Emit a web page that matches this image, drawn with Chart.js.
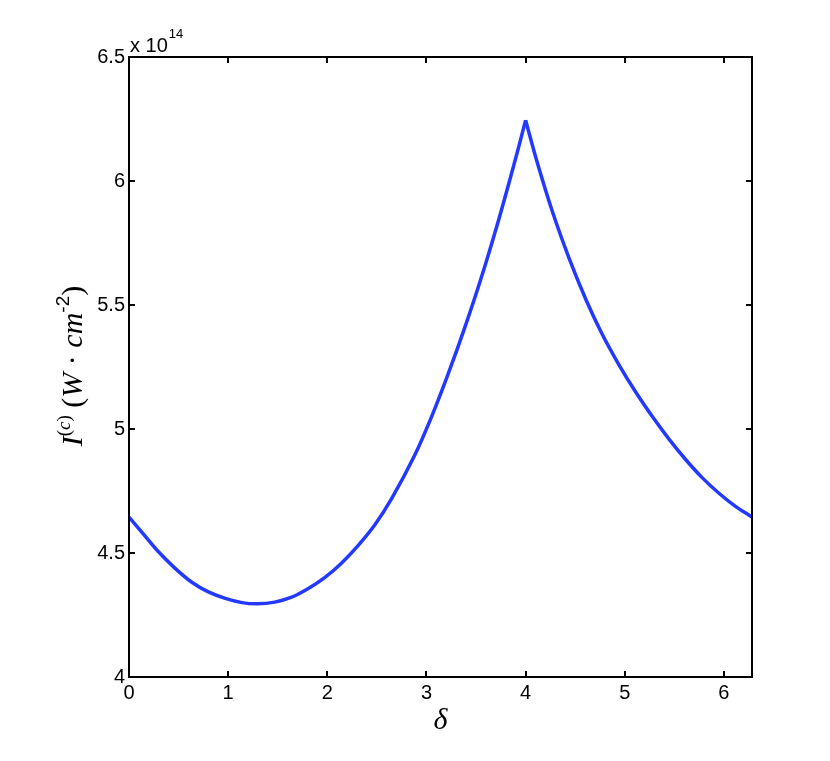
<!DOCTYPE html>
<html>
<head>
<meta charset="utf-8">
<script src="https://cdn.jsdelivr.net/npm/chart.js@4.4.1/dist/chart.umd.min.js"></script>
<style>
  html, body { margin: 0; padding: 0; background: #fff; }
  #wrap { width: 830px; height: 761px; }
</style>
</head>
<body>
<div id="wrap"><canvas id="chart" width="830" height="761"></canvas></div>
<script>
// phase delta (rad) and peak intensity in units of 1e14 W/cm^2
const delta = [0, 0.15, 0.29, 0.46, 0.63, 0.80, 0.97, 1.14, 1.29, 1.47, 1.64, 1.80, 1.97, 2.14, 2.31, 2.48,
  2.65, 2.88, 3.05, 3.22, 3.40, 3.57, 3.74, 3.91, 4.0,
  4.11, 4.27, 4.44, 4.61, 4.77, 4.94, 5.12, 5.28, 5.45, 5.62, 5.78, 5.95, 6.12, 6.2832];
const intensity = [4.645, 4.574, 4.508, 4.44, 4.383, 4.343, 4.317, 4.300, 4.295, 4.302, 4.322, 4.355, 4.40, 4.458, 4.53, 4.614,
  4.72, 4.893, 5.048, 5.223, 5.425, 5.632, 5.86, 6.107, 6.245,
  6.085, 5.877, 5.687, 5.52, 5.384, 5.26, 5.143, 5.049, 4.957, 4.874, 4.804, 4.741, 4.687, 4.645];
const xTicks = [0, 1, 2, 3, 4, 5, 6];
const yTicks = [4, 4.5, 5, 5.5, 6, 6.5];
const xMax = 2 * Math.PI;

const lineColor = '#2339ff';
const sans = 'Liberation Sans, Arial, sans-serif';
const serif = 'Liberation Serif, Times New Roman, serif';
const tickFont = { family: sans, size: 20 };

// the curve has a cusp at the peak, so it is drawn as two smooth pieces
const peak = intensity.indexOf(Math.max(...intensity));
const points = delta.map((d, i) => ({ x: d, y: intensity[i] }));
const leftPart = points.slice(0, peak + 1);
const rightPart = points.slice(peak);

const curveStyle = {
  borderColor: lineColor,
  borderWidth: 3.5,
  pointRadius: 0,
  fill: false,
  tension: 0.3,
};

const framePlugin = {
  id: 'frame',
  afterDraw(chart) {
    const ctx = chart.ctx;
    const a = chart.chartArea;
    const xs = chart.scales.x;
    const ys = chart.scales.y;
    const tick = 6;
    ctx.save();
    ctx.strokeStyle = '#000';
    ctx.lineWidth = 2;
    ctx.strokeRect(a.left, a.top, a.right - a.left, a.bottom - a.top);
    ctx.beginPath();
    xTicks.forEach((v) => {
      const px = Math.round(xs.getPixelForValue(v));
      ctx.moveTo(px, a.bottom); ctx.lineTo(px, a.bottom - tick);
      ctx.moveTo(px, a.top); ctx.lineTo(px, a.top + tick);
    });
    yTicks.forEach((v) => {
      const py = Math.round(ys.getPixelForValue(v));
      ctx.moveTo(a.left, py); ctx.lineTo(a.left + tick, py);
      ctx.moveTo(a.right, py); ctx.lineTo(a.right - tick, py);
    });
    ctx.stroke();

    // exponent note above the y axis
    ctx.fillStyle = '#000';
    ctx.textBaseline = 'alphabetic';
    ctx.textAlign = 'left';
    ctx.font = '20px ' + sans;
    ctx.fillText('x 10', a.left + 1, a.top - 5);
    const w10 = ctx.measureText('x 10').width;
    ctx.font = '13px ' + sans;
    ctx.fillText('14', a.left + 2 + w10, a.top - 19);

    // x axis title
    ctx.font = 'italic 30px ' + serif;
    ctx.textAlign = 'center';
    ctx.fillText('\u03b4', (a.left + a.right) / 2, a.bottom + 52);

    // y axis title, rotated
    const pieces = [
      { t: 'I', f: 'italic 30px ' + serif, dy: 0 },
      { t: '(', f: '19px ' + serif, dy: -12 },
      { t: 'c', f: 'italic 19px ' + serif, dy: -12 },
      { t: ')', f: '19px ' + serif, dy: -12 },
      { t: ' (', f: '30px ' + serif, dy: 0 },
      { t: 'W', f: 'italic 30px ' + serif, dy: 0 },
      { t: ' \u00b7 ', f: '30px ' + serif, dy: 0 },
      { t: 'cm', f: 'italic 30px ' + serif, dy: 0 },
      { t: '-2', f: '19px ' + sans, dy: -13 },
      { t: ')', f: '30px ' + serif, dy: 0 },
    ];
    let total = 0;
    pieces.forEach((p) => { ctx.font = p.f; p.w = ctx.measureText(p.t).width; total += p.w; });
    ctx.translate(82, 366);
    ctx.rotate(-Math.PI / 2);
    ctx.textAlign = 'left';
    let x = -total / 2;
    pieces.forEach((p) => { ctx.font = p.f; ctx.fillText(p.t, x, p.dy); x += p.w; });
    ctx.restore();
  },
};

new Chart(document.getElementById('chart'), {
  type: 'line',
  data: {
    datasets: [
      { ...curveStyle, data: leftPart },
      { ...curveStyle, data: rightPart },
    ],
  },
  options: {
    responsive: false,
    animation: false,
    layout: { padding: { left: 69, right: 78, top: 57, bottom: 44 } },
    plugins: { legend: { display: false }, tooltip: { enabled: false } },
    scales: {
      x: {
        type: 'linear',
        min: 0,
        max: xMax,
        afterBuildTicks: (s) => { s.ticks = xTicks.map((v) => ({ value: v })); },
        afterFit: (s) => { s.height = 40; },
        grid: { display: false, drawTicks: false },
        border: { display: false },
        ticks: { color: '#000', font: tickFont, padding: 4, maxRotation: 0, autoSkip: false },
      },
      y: {
        type: 'linear',
        min: 4,
        max: 6.5,
        afterBuildTicks: (s) => { s.ticks = yTicks.map((v) => ({ value: v })); },
        afterFit: (s) => { s.width = 60; },
        grid: { display: false, drawTicks: false },
        border: { display: false },
        ticks: { color: '#000', font: tickFont, padding: 4, autoSkip: false, callback: (v) => String(v) },
      },
    },
  },
  plugins: [framePlugin],
});
</script>
</body>
</html>
